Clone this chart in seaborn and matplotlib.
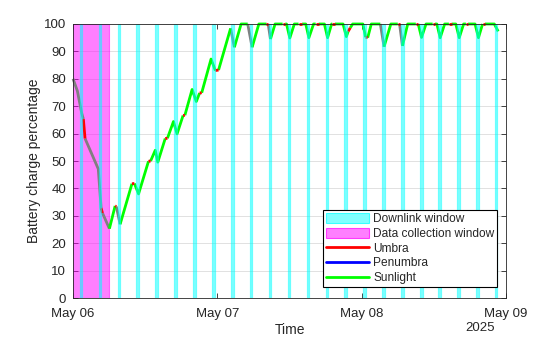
import numpy as np
import pandas as pd
import matplotlib
matplotlib.use("Agg")
import matplotlib.pyplot as plt
import matplotlib.dates as mdates
from matplotlib.patches import Patch
from matplotlib.lines import Line2D
import seaborn as sns

sns.set_style("ticks")
plt.rcParams["font.family"] = ["Liberation Sans", "DejaVu Sans"]

START = pd.Timestamp("2025-05-06")

# Battery charge key points (hours after May 06 00:00, percent)
bat_hours = [0.0, 0.72, 1.45, 1.72, 2.0, 4.2, 4.67, 4.9, 6.05, 7.0, 7.2, 7.83,
             9.8, 10.2, 10.9, 12.55, 12.9, 13.67, 14.1, 15.33, 15.7, 16.7, 17.3,
             18.3, 18.6, 19.8, 20.5, 21.05, 21.4, 22.95, 23.67, 24.2, 26.2, 26.83,
             27.95, 29.05, 29.78, 30.9, 32.17, 32.45, 32.83, 33.6, 34.85, 35.3,
             35.5, 36.05, 36.8, 37.5, 38.1, 38.7, 39.22, 40.0, 40.35, 40.85, 41.8,
             42.33, 43.0, 43.1, 43.55, 44.9, 45.45, 45.75, 46.1, 46.5, 48.2, 48.65,
             49.0, 49.6, 51.1, 51.72, 52.85, 54.0, 54.3, 54.78, 55.65, 57.0, 57.4,
             57.95, 58.7, 59.8, 60.2, 60.5, 61.05, 61.8, 62.5, 62.95, 63.65, 64.22,
             64.95, 65.33, 65.7, 66.85, 67.42, 68.1, 68.5, 70.05, 70.7]
bat_pct = [80.0, 75.6, 67.4, 65.3, 58.2, 47.1, 32.8, 31.0, 25.3, 33.6, 33.4, 26.9,
           41.7, 41.8, 38.0, 49.9, 50.0, 53.9, 49.6, 58.2, 58.3, 64.4, 59.9,
           66.6, 66.7, 76.1, 71.7, 74.8, 74.9, 87.2, 83.0, 83.2, 98.4, 91.5,
           100, 100, 91.5, 100, 100, 100, 94.5, 100, 100, 100,
           100, 94.9, 100, 100, 100, 100, 95.0, 100, 100, 100, 100,
           95.0, 100, 100, 100, 100, 95.4, 97.3, 98.6, 100, 100, 95.2,
           95.0, 100, 100, 91.7, 100, 100, 100, 92.0, 100, 100, 100,
           95.1, 100, 100, 100, 100, 95.0, 100, 100, 100, 100, 95.0,
           100, 100, 100, 100, 95.0, 100, 100, 100, 97.3]
# state of the segment that ends at each point (O = other/gray, S = sunlight, U = umbra)
seg_state = ["-", "O", "O", "O", "U", "O", "O", "U", "O", "S", "U", "O",
             "S", "U", "S", "S", "U", "S", "S", "S", "U", "S", "S",
             "S", "U", "S", "S", "S", "U", "S", "S", "U", "S", "O",
             "S", "S", "O", "S", "S", "U", "O", "S", "S", "U",
             "S", "S", "S", "S", "U", "S", "S", "S", "S", "U", "S",
             "S", "S", "S", "U", "S", "S", "S", "U", "S", "S", "S",
             "U", "S", "S", "O", "S", "S", "U", "O", "S", "S", "U",
             "S", "S", "S", "U", "S", "S", "S", "S", "U", "S", "S",
             "S", "S", "U", "S", "S", "S", "U", "S", "S"]

downlink_start_h = [1.1, 4.27, 7.43, 10.52, 13.6, 16.77, 19.93, 23.1, 26.27, 29.35,
                    32.52, 35.68, 38.85, 42.02, 45.1, 48.27, 51.43, 54.52, 57.68,
                    60.77, 63.93, 67.02, 70.1]
downlink_dur_h = 0.45
collect_start_h = 0.0
collect_end_h = 6.05

state_names = {"O": "Other", "S": "Sunlight", "U": "Umbra"}
palette = {"Other": "#808080", "Sunlight": "#00FF00", "Umbra": "#FF0000"}

# build runs of equal state
rows = []
run = -1
prev = None
for i in range(1, len(bat_hours)):
    st = seg_state[i]
    if st != prev:
        run += 1
        rows.append((run, state_names[st], bat_hours[i - 1], bat_pct[i - 1]))
        prev = st
    rows.append((run, state_names[st], bat_hours[i], bat_pct[i]))
df = pd.DataFrame(rows, columns=["run", "state", "hours", "pct"])
df["time"] = START + pd.to_timedelta(df["hours"], unit="h")

fig = plt.figure(figsize=(5.6, 3.37), dpi=100)
ax = fig.add_axes([0.1304, 0.1157, 0.7732, 0.8131])

sns.lineplot(data=df, x="time", y="pct", hue="state", units="run", estimator=None,
             hue_order=["Other", "Sunlight", "Umbra"], palette=palette,
             linewidth=2.0, legend=False, sort=False, ax=ax, zorder=3)
for ln in ax.get_lines():
    ln.set_clip_on(False)
    ln.set_solid_capstyle("butt")

# windows
ax.axvspan(START + pd.Timedelta(hours=collect_start_h), START + pd.Timedelta(hours=collect_end_h),
           facecolor=(1, 0, 1, 0.5), edgecolor=(1, 0, 1, 0.5), linewidth=0.8, zorder=2)
for s in downlink_start_h:
    ax.axvspan(START + pd.Timedelta(hours=s), START + pd.Timedelta(hours=s + downlink_dur_h),
               facecolor=(0, 1, 1, 0.5), edgecolor=(0, 1, 1, 0.45), linewidth=0.9, zorder=4)

ax.set_xlim(START, START + pd.Timedelta(days=3))
ax.set_ylim(0, 100)
ax.set_yticks(np.arange(0, 101, 10))
ax.xaxis.set_major_locator(mdates.DayLocator())
ax.xaxis.set_major_formatter(mdates.DateFormatter("%b %d"))

dark = "#262626"
ax.tick_params(direction="in", length=3.5, width=0.6, top=True, right=True,
               labelsize=9.5, colors=dark)
ax.tick_params(axis="x", pad=7)
ax.tick_params(axis="y", pad=5)
for sp in ax.spines.values():
    sp.set_visible(True)
    sp.set_color(dark)
    sp.set_linewidth(0.6)
    sp.set_zorder(5)
ax.yaxis.grid(True, color="#dcdcdc", linewidth=0.6)
ax.xaxis.grid(False)
ax.set_axisbelow(True)

ax.set_xlabel("Time", fontsize=10, color=dark, labelpad=2)
ax.set_ylabel("Battery charge percentage", fontsize=10, color=dark, labelpad=2)
ax.text(0.975, -0.111, "2025", transform=ax.transAxes, ha="right", va="center",
        fontsize=9.5, color=dark)

handles = [
    Patch(facecolor=(0, 1, 1, 0.5), edgecolor=(0, 1, 1, 0.7), linewidth=0.8, label="Downlink window"),
    Patch(facecolor=(1, 0, 1, 0.5), edgecolor=(1, 0, 1, 0.7), linewidth=0.8, label="Data collection window"),
    Line2D([], [], color="#FF0000", linewidth=2, label="Umbra"),
    Line2D([], [], color="#0000FF", linewidth=2, label="Penumbra"),
    Line2D([], [], color="#00FF00", linewidth=2, label="Sunlight"),
]
leg = ax.legend(handles=handles, loc="lower right", bbox_to_anchor=(0.98, 0.04),
                fontsize=8.6, frameon=True, fancybox=False, framealpha=1,
                edgecolor="black", borderpad=0.25, labelspacing=0.22,
                handlelength=3.6, handleheight=0.9, handletextpad=0.35,
                borderaxespad=0.0)
leg.get_frame().set_linewidth(0.8)
leg.set_zorder(10)
for t in leg.get_texts():
    t.set_color(dark)

fig.savefig("out.png", dpi=100)
